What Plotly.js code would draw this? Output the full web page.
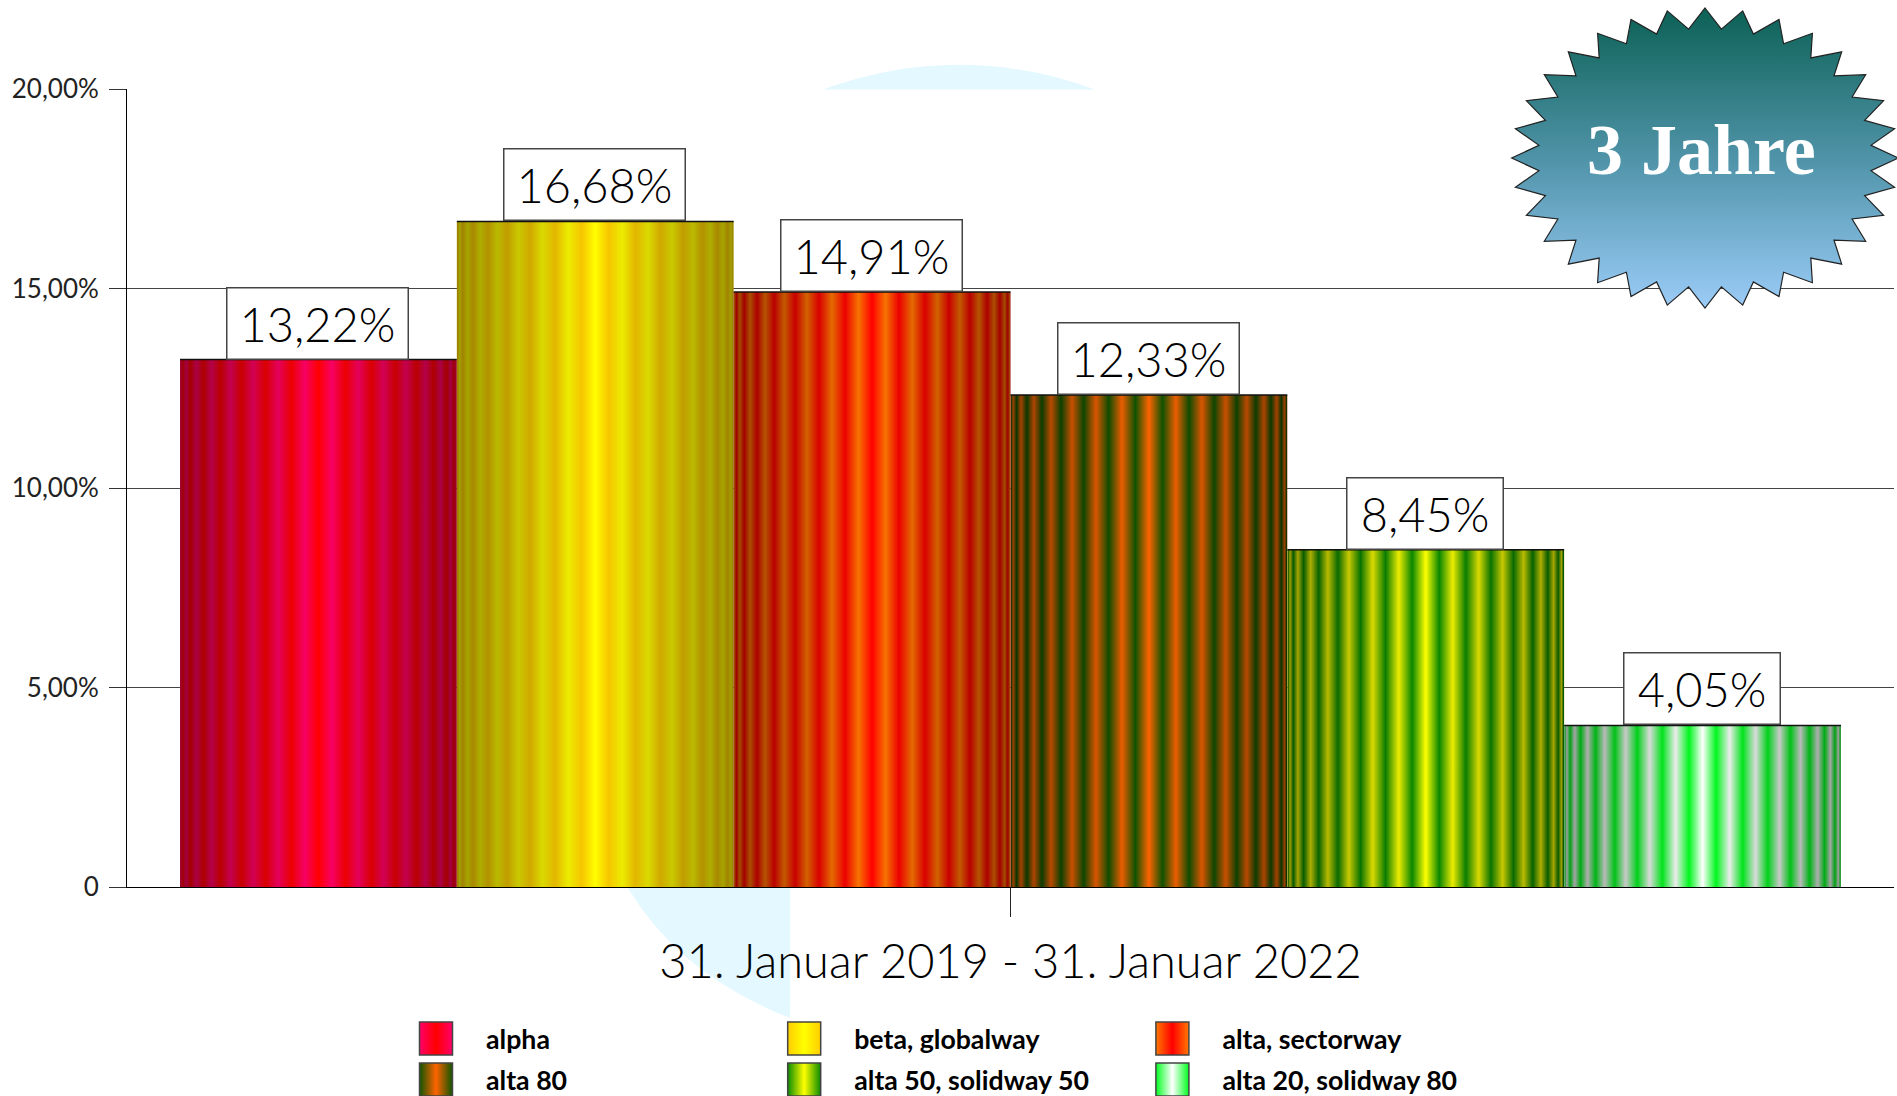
<!DOCTYPE html>
<html lang="de">
<head>
<meta charset="utf-8">
<title>3 Jahre</title>
<script src="https://cdn.plot.ly/plotly-3.0.1.min.js"></script>
<style>html,body{margin:0;padding:0;background:#fff;overflow:hidden}#chart{width:1897px;height:1096px}</style>
</head>
<body>
<div id="chart"></div>
<script>
const category = ['31. Januar 2019 - 31. Januar 2022'];
const seriesNames = ['alpha', 'beta, globalway', 'alta, sectorway', 'alta 80', 'alta 50, solidway 50', 'alta 20, solidway 80'];
const seriesValues = [13.22, 16.68, 14.91, 12.33, 8.45, 4.05];
const yTickValues = [0, 5, 10, 15, 20];
const yTickLabels = ['0', '5,00%', '10,00%', '15,00%', '20,00%'];
const badgeText = '3 Jahre';

const stripeMain = [[255,0,0],[255,255,0],[255,0,0],[255,100,0],[255,255,0],[255,255,255]];
const stripeAlt  = [[255,0,105],[255,205,0],[255,120,0],[15,85,0],[10,140,0],[0,255,30]];

const W = 1897, H = 1096;
const M = {l:127, r:3, t:89, b:209};
const GAP = 0.06;
const px = x => (x - M.l) / (W - M.l - M.r);
const py = y => 1 - (y - M.t) / (H - M.t - M.b);
const path = s => s.replace(/(-?[\d.]+),(-?[\d.]+)/g, (m, a, b) => px(+a).toFixed(5) + ',' + py(+b).toFixed(5));

// decorative star outline (32 tips)
function starPath(cx, cy, rx, ry, inner, n) {
  let d = '';
  for (let i = 0; i < 2 * n; i++) {
    const a = Math.PI * i / n, r = i % 2 ? inner : 1;
    const x = cx + rx * r * Math.sin(a), y = cy - ry * r * Math.cos(a);
    d += (i ? 'L' : 'M') + x.toFixed(1) + ',' + y.toFixed(1);
  }
  return d + 'Z';
}

const traces = seriesNames.map((name, i) => ({
  type: 'bar', name, x: category, y: [seriesValues[i]],
  marker: {color: 'rgb(' + stripeMain[i].join(',') + ')', line: {color: '#111', width: 1.5}},
  hoverinfo: 'name+y'
}));

const barW = (1 - GAP) / seriesNames.length;
const annotations = seriesValues.map((v, i) => {
  const label = v.toFixed(2).replace('.', ',') + '%';
  return {
    x: -(1 - GAP) / 2 + barW * (i + 0.5), xref: 'x', y: v, yref: 'y', xshift: -0.5,
    xanchor: 'center', yanchor: 'bottom', showarrow: false,
    text: label, font: {family: 'Lato', size: 47, color: '#000', weight: 300},
    width: label.length > 5 ? 180 : 155, height: 70, align: 'center', valign: 'middle',
    bgcolor: '#fff', bordercolor: '#444', borderwidth: 1.5, borderpad: 0
  };
});
annotations.push({
  x: px(1701), xref: 'paper', y: py(150), yref: 'paper', xanchor: 'center', yanchor: 'middle',
  showarrow: false, text: '<b>' + badgeText + '</b>',
  font: {family: 'Liberation Serif', size: 72, color: '#fff'}
});

const layout = {
  width: W, height: H, margin: {l: M.l, r: M.r, t: M.t, b: M.b, pad: 0, autoexpand: false},
  paper_bgcolor: '#fff', plot_bgcolor: 'rgba(0,0,0,0)',
  barmode: 'group', bargap: GAP, bargroupgap: 0,
  font: {family: 'Lato', color: '#111'},
  xaxis: {
    type: 'category', range: [-0.5, 0.5], fixedrange: true, showgrid: false, zeroline: false,
    showline: true, linecolor: '#000', linewidth: 1,
    ticks: 'outside', ticklen: 29, tickcolor: '#222', tickwidth: 1, ticklabelstandoff: 5,
    tickfont: {family: 'Lato', size: 47, color: '#000', weight: 300}
  },
  yaxis: {
    range: [0, 20], fixedrange: true, tickmode: 'array', tickvals: yTickValues, ticktext: yTickLabels,
    showgrid: true, gridcolor: '#444', gridwidth: 1, zeroline: false,
    showline: true, linecolor: '#000', linewidth: 1,
    ticks: 'outside', ticklen: 17, tickcolor: '#333', tickwidth: 1, ticklabelstandoff: 5,
    tickfont: {family: 'Lato', size: 26, color: '#222'}
  },
  showlegend: true,
  legend: {
    orientation: 'h', x: px(386), xanchor: 'left', y: py(1020), yanchor: 'top',
    entrywidth: 368, entrywidthmode: 'pixels', itemwidth: 90, traceorder: 'normal',
    font: {family: 'Lato', size: 26.7, color: '#000', weight: 700},
    bgcolor: 'rgba(0,0,0,0)', borderwidth: 0, itemclick: false, itemdoubleclick: false
  },
  shapes: [
    {type: 'path', xref: 'paper', yref: 'paper', layer: 'below', line: {width: 0}, fillcolor: '#e4f8ff',
     path: path('M823,89.5 Q959,40 1095,89.5 Z')},
    {type: 'path', xref: 'paper', yref: 'paper', layer: 'below', line: {width: 0}, fillcolor: '#e4f8ff',
     path: path('M628,888 Q680,975 790,1018 L790,888 Z')},
    {type: 'path', xref: 'paper', yref: 'paper', layer: 'above', line: {color: '#222', width: 1.2}, fillcolor: '#4e91a5',
     path: path(starPath(1705, 158, 193.3, 150, 0.863, 32))}
  ],
  annotations
};

function addGradients(gd) {
  const svg = gd.querySelector('svg.main-svg');
  const defs = svg.querySelector('defs');
  const NS = 'http://www.w3.org/2000/svg';
  const mk = (id, stops, vertical) => {
    const old = svg.querySelector('#' + id); if (old) old.remove();
    const g = document.createElementNS(NS, 'linearGradient');
    g.setAttribute('id', id); g.setAttribute('x1', 0); g.setAttribute('y1', 0);
    g.setAttribute('x2', vertical ? 0 : 1); g.setAttribute('y2', vertical ? 1 : 0);
    stops.forEach(([o, c]) => {
      const s = document.createElementNS(NS, 'stop');
      s.setAttribute('offset', o); s.setAttribute('stop-color', c); g.appendChild(s);
    });
    defs.appendChild(g);
  };
  const rgb = c => 'rgb(' + c.map(v => Math.round(v)).join(',') + ')';
  seriesNames.forEach((_, i) => {
    const stops = [];
    for (let k = -16; k <= 16; k++) {
      const x = Math.sin(k * Math.PI / 32);
      const c = (k % 2 === 0 ? stripeMain : stripeAlt)[i];
      const b = 1 - 0.38 * Math.abs(x);
      stops.push([(x + 1) / 2, rgb(c.map(v => v * b))]);
    }
    mk('bar' + i, stops);
    mk('leg' + i, [[0, rgb(stripeAlt[i])], [0.5, rgb(stripeMain[i])], [1, rgb(stripeAlt[i])]]);
  });
  mk('star', [[0, '#0c6155'], [0.5, '#4f93a8'], [1, '#9bccf8']], true);

  gd.querySelectorAll('.barlayer .trace').forEach((t, i) => {
    t.querySelectorAll('path').forEach(p => {
      p.style.fill = 'url(#bar' + i + ')';
      // stroke only the top edge of the bar
      const b = p.getBBox();
      p.style.strokeDasharray = '0 ' + b.height + ' ' + b.width + ' ' + (b.height + b.width);
    });
  });
  const star = gd.querySelector('.layer-above .shapelayer path');
  if (star) star.style.fill = 'url(#star)';

  // legend layout: two rows of three, swatches 33 px square
  const legend = gd.querySelector('g.legend');
  legend.setAttribute('transform', 'translate(0,0)');
  const sb = legend.querySelector('.scrollbox');
  sb.removeAttribute('clip-path'); sb.style.clipPath = 'none';
  legend.removeAttribute('clip-path');
  sb.setAttribute('transform', 'translate(0,0)');
  legend.querySelectorAll('.traces').forEach((t, i) => {
    const c = i % 3, r = Math.floor(i / 3);
    t.setAttribute('transform', 'translate(' + (386 + 368.2 * c) + ',' + (1038.5 + 41 * r) + ')');
    t.querySelectorAll('.legendpoints path, path.legendbar').forEach(p => {
      p.setAttribute('d', 'M16.5,16.5H-16.5V-16.5H16.5Z');
      p.style.fill = 'url(#leg' + i + ')';
      p.style.stroke = '#444'; p.style.strokeWidth = '1.5px';
    });
  });
}

const gd = document.getElementById('chart');
Plotly.newPlot(gd, traces, layout, {displayModeBar: false, responsive: false}).then(() => addGradients(gd));
</script>
</body>
</html>
